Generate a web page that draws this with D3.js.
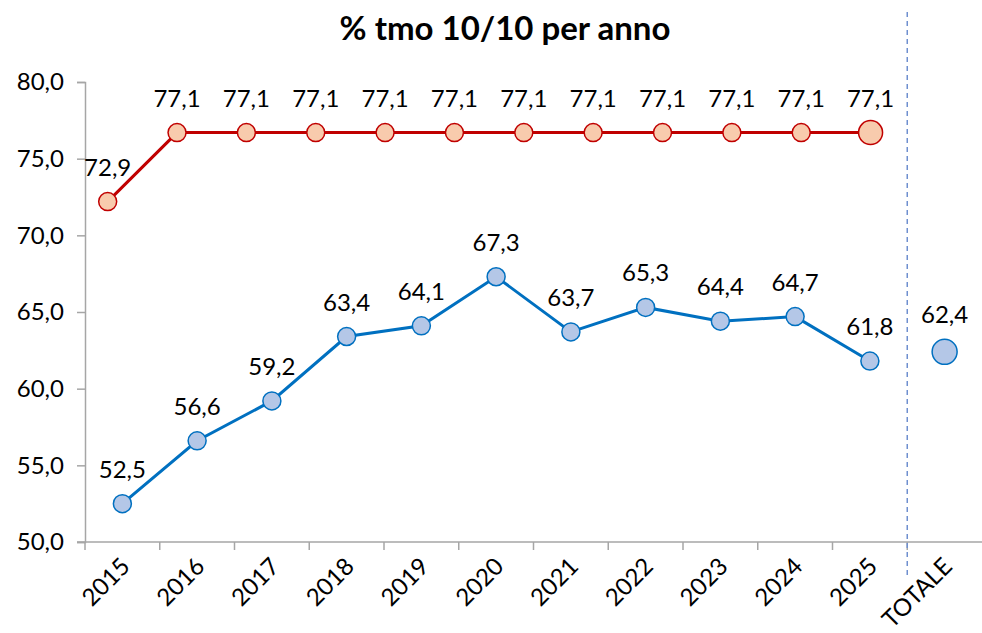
<!DOCTYPE html>
<html>
<head>
<meta charset="utf-8">
<script src="https://cdn.jsdelivr.net/npm/d3@7"></script>
<style>
  body { margin: 0; background: #fff; }
  text { font-family: Lato, "Open Sans", sans-serif; fill: #000; }
</style>
</head>
<body>
<div id="chart"></div>
<script>
// categories on the main axis
var categories = ["2015", "2016", "2017", "2018", "2019", "2020", "2021", "2022", "2023", "2024", "2025", "TOTALE"];

// blue series (years), plus the total point
var blueValues = [52.5, 56.6, 59.2, 63.4, 64.1, 67.3, 63.7, 65.3, 64.4, 64.7, 61.8];
var blueTotal = 62.4;

// red series: plotted positions and the labels shown above them
var redValues = [72.2, 76.7, 76.7, 76.7, 76.7, 76.7, 76.7, 76.7, 76.7, 76.7, 76.7, 76.7];
var redLabels = ["72,9", "77,1", "77,1", "77,1", "77,1", "77,1", "77,1", "77,1", "77,1", "77,1", "77,1", "77,1"];

var yTicks = [50, 55, 60, 65, 70, 75, 80];

var W = 982, H = 633;
var margin = { top: 82, right: 0, bottom: 91, left: 85 };
var fmt = function (v) { return v.toFixed(1).replace(".", ","); };
var fs = "24px";

var svg = d3.select("#chart").append("svg")
  .attr("width", W)
  .attr("height", H);

var x = d3.scaleBand().domain(categories).range([margin.left, W - margin.right]);
var bw = x.bandwidth();
var cx = function (c) { return x(c) + bw / 2; };
var y = d3.scaleLinear().domain([50, 80]).range([H - margin.bottom, margin.top]);

// red series sits on its own (secondary) category axis
var dividerX = x("TOTALE");
var xRed = d3.scaleBand().domain(d3.range(redValues.length)).range([margin.left - 12, dividerX - 2]);
var rx = function (i) { return xRed(i) + xRed.bandwidth() / 2; };

// title
svg.append("text")
  .attr("x", 505)
  .attr("y", 40)
  .attr("text-anchor", "middle")
  .style("font-size", "33px")
  .style("font-weight", "bold")
  .text("% tmo 10/10 per anno");

// y axis
var yAxis = svg.append("g")
  .attr("transform", "translate(" + margin.left + ",0)")
  .call(d3.axisLeft(y).tickValues(yTicks).tickFormat(fmt).tickSize(8).tickPadding(13));
yAxis.select(".domain").attr("stroke", "#a6a6a6").attr("stroke-width", 1.5);
yAxis.selectAll(".tick line").attr("stroke", "#a6a6a6").attr("stroke-width", 1.5);
yAxis.selectAll(".tick text").style("font-size", fs).style("font-family", "Lato, sans-serif").attr("fill", "#000");

// x axis
var xAxis = svg.append("g")
  .attr("transform", "translate(0," + y(50) + ")")
  .call(d3.axisBottom(x).tickSize(0).tickSizeOuter(0));
xAxis.select(".domain").attr("stroke", "#a6a6a6").attr("stroke-width", 1.5)
  .attr("d", "M" + (margin.left - 8) + ",0H" + W);
xAxis.selectAll(".tick text")
  .style("font-size", fs)
  .style("font-family", "Lato, sans-serif")
  .attr("fill", "#000")
  .attr("text-anchor", "end")
  .attr("dy", 0)
  .attr("y", 0)
  .attr("transform", "translate(9,26) rotate(-45)");
// category boundary ticks
xAxis.selectAll(".bound")
  .data(categories)
  .enter().append("line")
  .attr("class", "bound")
  .attr("x1", function (c) { return x(c); })
  .attr("x2", function (c) { return x(c); })
  .attr("y1", 0)
  .attr("y2", 8)
  .attr("stroke", "#a6a6a6")
  .attr("stroke-width", 1.5);

// dashed divider before TOTALE
svg.append("line")
  .attr("x1", dividerX).attr("x2", dividerX)
  .attr("y1", 12).attr("y2", 575)
  .attr("stroke", "#6f8fcf")
  .attr("stroke-width", 1.5)
  .attr("stroke-dasharray", "5,4");

// red line
var redLine = d3.line().x(function (d, i) { return rx(i); }).y(function (d) { return y(d); });
svg.append("path")
  .datum(redValues)
  .attr("fill", "none")
  .attr("stroke", "#c00000")
  .attr("stroke-width", 3)
  .attr("d", redLine);

svg.selectAll(".redDot")
  .data(redValues)
  .enter().append("circle")
  .attr("class", "redDot")
  .attr("cx", function (d, i) { return rx(i); })
  .attr("cy", function (d) { return y(d); })
  .attr("r", function (d, i) { return i === redValues.length - 1 ? 12 : 9; })
  .attr("fill", "#f8cbad")
  .attr("stroke", "#c00000")
  .attr("stroke-width", 1.5);

svg.selectAll(".redLab")
  .data(redValues)
  .enter().append("text")
  .attr("class", "redLab")
  .attr("x", function (d, i) { return rx(i); })
  .attr("y", function (d) { return y(d) - 26; })
  .attr("text-anchor", "middle")
  .style("font-size", fs)
  .text(function (d, i) { return redLabels[i]; });

// blue line
var years = categories.slice(0, blueValues.length);
var blueLine = d3.line().x(function (d, i) { return cx(years[i]); }).y(function (d) { return y(d); });
svg.append("path")
  .datum(blueValues)
  .attr("fill", "none")
  .attr("stroke", "#0070c0")
  .attr("stroke-width", 3)
  .attr("d", blueLine);

svg.selectAll(".blueDot")
  .data(blueValues)
  .enter().append("circle")
  .attr("class", "blueDot")
  .attr("cx", function (d, i) { return cx(years[i]); })
  .attr("cy", function (d) { return y(d); })
  .attr("r", 9)
  .attr("fill", "#b4c7e7")
  .attr("stroke", "#0070c0")
  .attr("stroke-width", 1.5);

svg.selectAll(".blueLab")
  .data(blueValues)
  .enter().append("text")
  .attr("class", "blueLab")
  .attr("x", function (d, i) { return cx(years[i]); })
  .attr("y", function (d) { return y(d) - 26; })
  .attr("text-anchor", "middle")
  .style("font-size", fs)
  .text(fmt);

// total point
svg.append("circle")
  .attr("cx", cx("TOTALE"))
  .attr("cy", y(blueTotal))
  .attr("r", 12.5)
  .attr("fill", "#b4c7e7")
  .attr("stroke", "#0070c0")
  .attr("stroke-width", 1.5);
svg.append("text")
  .attr("x", cx("TOTALE"))
  .attr("y", y(blueTotal) - 29)
  .attr("text-anchor", "middle")
  .style("font-size", fs)
  .text(fmt(blueTotal));
</script>
</body>
</html>
